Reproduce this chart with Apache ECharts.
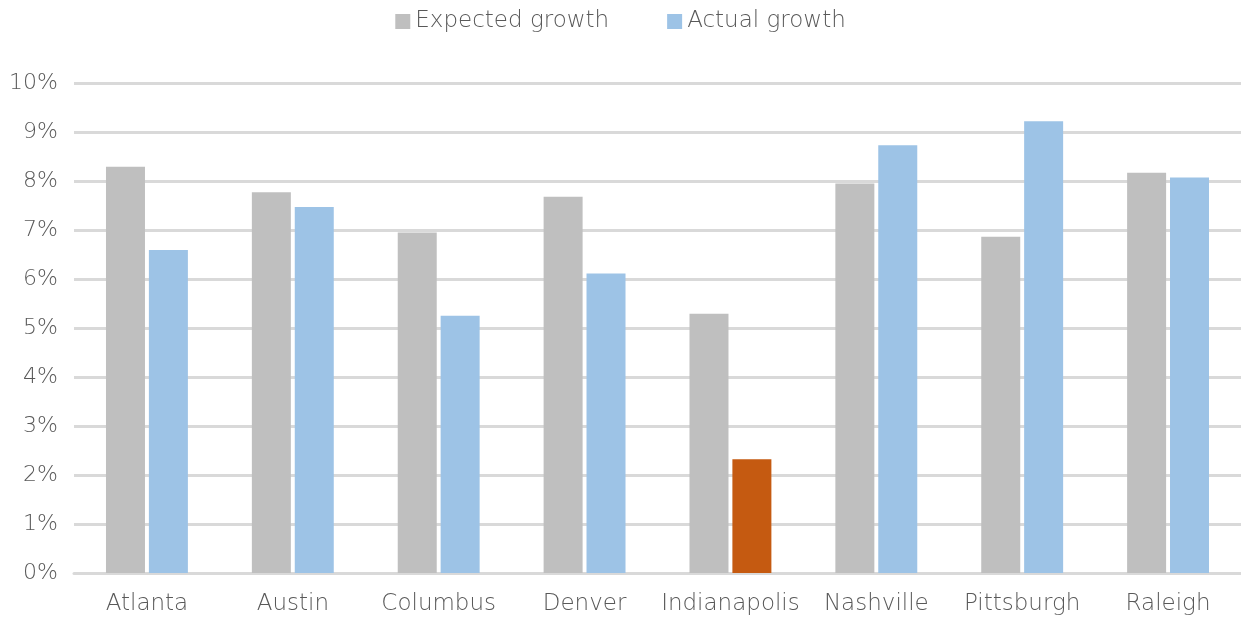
<!DOCTYPE html>
<html>
<head>
<meta charset="utf-8">
<script src="https://cdn.jsdelivr.net/npm/echarts@6/dist/echarts.min.js"></script>
<style>
html, body { margin: 0; padding: 0; background: #fff; }
#main { width: 1241px; height: 620px; }
</style>
</head>
<body>
<div id="main"></div>
<script>
var cities = ['Atlanta', 'Austin', 'Columbus', 'Denver', 'Indianapolis', 'Nashville', 'Pittsburgh', 'Raleigh'];
var expected = [8.29, 7.77, 6.95, 7.68, 5.29, 7.95, 6.86, 8.17];
var actual = [6.59, 7.47, 5.25, 6.11, 2.32, 8.73, 9.22, 8.07];
var highlightCity = 'Indianapolis';

var FONT = 'DejaVu Sans';
var TXT = '#595959';

function buildActual(){
	var out = [];
	for (var i = 0; i < actual.length; i++) {
		if (cities[i] == highlightCity) {
			out.push({ value: actual[i], itemStyle: { color: '#C55A11' } });
		} else {
			out.push(actual[i]);
		}
	}
	return out;
}

var myChart = echarts.init(document.getElementById('main'));
var option = {
	backgroundColor: '#fff',
	animation: false,
	legend: {
		top: 5,
		left: 'center',
		itemWidth: 15,
		itemHeight: 15,
		itemGap: 58,
		icon: 'rect',
		textStyle: { color: TXT, fontSize: 23, fontFamily: FONT, fontWeight: 200 },
		data: ['Expected growth', 'Actual growth']
	},
	grid: { left: 74, right: 0, top: 83, bottom: 47, containLabel: false },
	xAxis: {
		type: 'category',
		data: cities,
		axisLine: { lineStyle: { color: '#D9D9D9', width: 3 } },
		axisTick: { show: false },
		axisLabel: { color: TXT, fontSize: 23, fontFamily: FONT, fontWeight: 200, margin: 20, interval: 0 }
	},
	yAxis: {
		type: 'value',
		min: 0,
		max: 10,
		interval: 1,
		axisLine: { show: false },
		axisTick: { show: false },
		axisLabel: {
			color: TXT, fontSize: 22, fontFamily: FONT, fontWeight: 200, margin: 16,
			formatter: function (v) { return v + '%'; }
		},
		splitLine: { lineStyle: { color: '#D9D9D9', width: 3 } }
	},
	series: [
		{
			name: 'Expected growth',
			type: 'bar',
			data: expected,
			barWidth: 39,
			barGap: '10%',
			itemStyle: { color: '#BFBFBF' }
		},
		{
			name: 'Actual growth',
			type: 'bar',
			data: buildActual(),
			barWidth: 39,
			itemStyle: { color: '#9DC3E6' }
		}
	]
};
myChart.setOption(option);
</script>
</body>
</html>
